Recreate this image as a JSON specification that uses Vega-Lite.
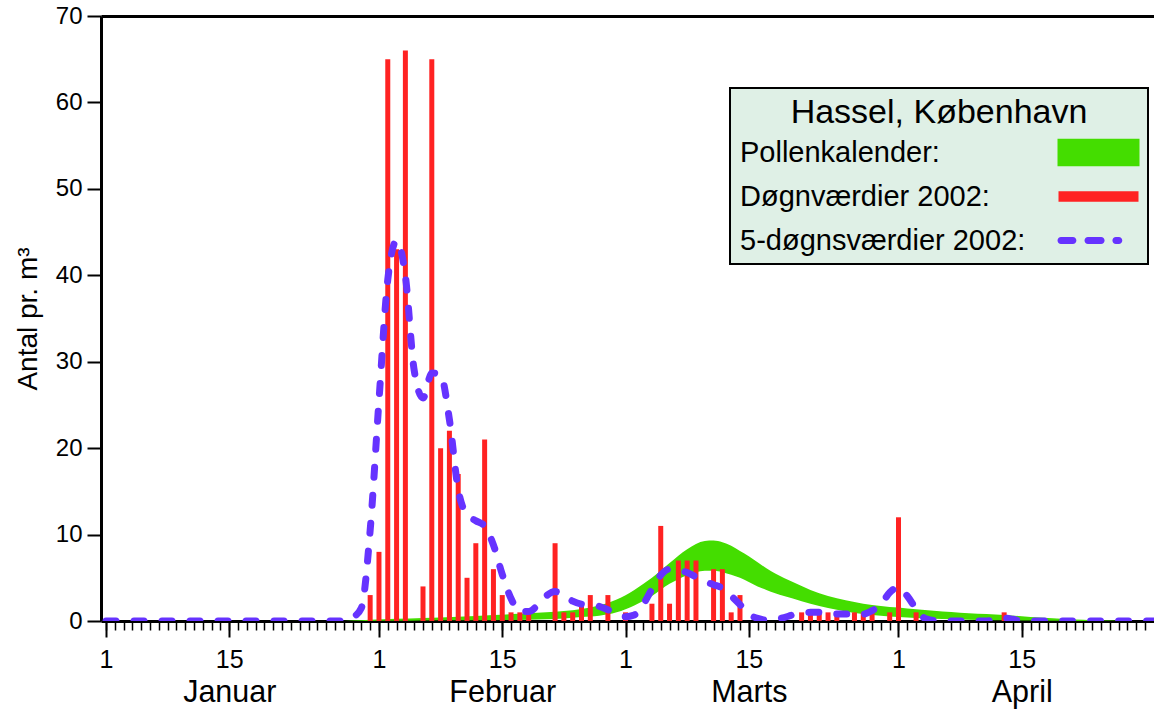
{
  "$schema": "https://vega.github.io/schema/vega-lite/v6.json",
  "width": 1053,
  "height": 605,
  "autosize": {"type": "none"},
  "padding": {"left": 101, "top": 16, "right": 0, "bottom": 89},
  "background": "white",
  "config": {
    "view": {"stroke": null},
    "font": "Liberation Sans",
    "axis": {
      "domainColor": "black",
      "domainWidth": 3,
      "tickColor": "black",
      "labelColor": "black",
      "titleColor": "black",
      "labelFont": "Liberation Sans",
      "titleFont": "Liberation Sans",
      "grid": false
    },
    "axisY": {
      "tickSize": 14,
      "tickWidth": 2,
      "labelFontSize": 24,
      "labelPadding": 5,
      "titleFontSize": 28,
      "titleFontWeight": "normal",
      "titlePadding": 13
    },
    "legend": {"strokeWidth": 2}
  },
  "datasets": {
    "band": [
      {"day": 27, "lo": 0, "hi": 0},
      {"day": 28, "lo": 0, "hi": 0.05},
      {"day": 30, "lo": 0, "hi": 0.15},
      {"day": 33, "lo": 0.02, "hi": 0.25},
      {"day": 36, "lo": 0.05, "hi": 0.35},
      {"day": 40, "lo": 0.08, "hi": 0.5},
      {"day": 44, "lo": 0.1, "hi": 0.7},
      {"day": 48, "lo": 0.15, "hi": 0.9},
      {"day": 50, "lo": 0.2, "hi": 1.0},
      {"day": 52, "lo": 0.3, "hi": 1.15},
      {"day": 54, "lo": 0.45, "hi": 1.4},
      {"day": 56, "lo": 0.6, "hi": 1.8},
      {"day": 58, "lo": 1.0, "hi": 2.5},
      {"day": 60, "lo": 1.8, "hi": 3.6},
      {"day": 62, "lo": 2.9, "hi": 5.0},
      {"day": 64, "lo": 4.3, "hi": 6.7},
      {"day": 66, "lo": 5.3, "hi": 8.3},
      {"day": 67, "lo": 5.65, "hi": 8.9},
      {"day": 68, "lo": 5.8, "hi": 9.25},
      {"day": 69, "lo": 5.8, "hi": 9.3},
      {"day": 70, "lo": 5.65, "hi": 9.1},
      {"day": 71, "lo": 5.35, "hi": 8.7},
      {"day": 72, "lo": 5.0, "hi": 8.1},
      {"day": 73, "lo": 4.5, "hi": 7.5},
      {"day": 74, "lo": 4.0, "hi": 6.8},
      {"day": 75, "lo": 3.6, "hi": 6.1},
      {"day": 76, "lo": 3.2, "hi": 5.5},
      {"day": 78, "lo": 2.6, "hi": 4.5},
      {"day": 80, "lo": 2.0, "hi": 3.6},
      {"day": 82, "lo": 1.5, "hi": 2.9},
      {"day": 84, "lo": 1.1, "hi": 2.4},
      {"day": 86, "lo": 0.8, "hi": 2.0},
      {"day": 88, "lo": 0.6, "hi": 1.75},
      {"day": 90, "lo": 0.45, "hi": 1.55},
      {"day": 92, "lo": 0.35, "hi": 1.35},
      {"day": 94, "lo": 0.25, "hi": 1.2},
      {"day": 96, "lo": 0.2, "hi": 1.05},
      {"day": 98, "lo": 0.15, "hi": 0.9},
      {"day": 100, "lo": 0.1, "hi": 0.8},
      {"day": 102, "lo": 0.08, "hi": 0.7},
      {"day": 104, "lo": 0.05, "hi": 0.55},
      {"day": 106, "lo": 0.03, "hi": 0.4},
      {"day": 108, "lo": 0.02, "hi": 0.28},
      {"day": 110, "lo": 0, "hi": 0.18},
      {"day": 112, "lo": 0, "hi": 0.1},
      {"day": 114, "lo": 0, "hi": 0.05},
      {"day": 116, "lo": 0, "hi": 0}
    ],
    "daily": [
      {"day": 30, "value": 3}, {"day": 31, "value": 8}, {"day": 32, "value": 65},
      {"day": 33, "value": 43}, {"day": 34, "value": 66}, {"day": 36, "value": 4},
      {"day": 37, "value": 65}, {"day": 38, "value": 20}, {"day": 39, "value": 22},
      {"day": 40, "value": 17}, {"day": 41, "value": 5}, {"day": 42, "value": 9},
      {"day": 43, "value": 21}, {"day": 44, "value": 6}, {"day": 45, "value": 3},
      {"day": 46, "value": 1}, {"day": 47, "value": 1}, {"day": 48, "value": 1},
      {"day": 51, "value": 9}, {"day": 52, "value": 1}, {"day": 53, "value": 1},
      {"day": 54, "value": 2}, {"day": 55, "value": 3}, {"day": 57, "value": 3},
      {"day": 59, "value": 1}, {"day": 62, "value": 2}, {"day": 63, "value": 11},
      {"day": 64, "value": 2}, {"day": 65, "value": 7}, {"day": 66, "value": 7},
      {"day": 67, "value": 7}, {"day": 69, "value": 6}, {"day": 70, "value": 6},
      {"day": 71, "value": 1}, {"day": 72, "value": 3}, {"day": 79, "value": 1},
      {"day": 80, "value": 1}, {"day": 81, "value": 1}, {"day": 82, "value": 1},
      {"day": 83, "value": 1}, {"day": 85, "value": 1}, {"day": 86, "value": 1},
      {"day": 87, "value": 1}, {"day": 89, "value": 1}, {"day": 90, "value": 12},
      {"day": 92, "value": 1}, {"day": 102, "value": 1}
    ],
    "fiveday": [
      {"day": 0, "value": 0}, {"day": 1, "value": 0}, {"day": 2, "value": 0}, {"day": 3, "value": 0},
      {"day": 4, "value": 0}, {"day": 5, "value": 0}, {"day": 6, "value": 0}, {"day": 7, "value": 0},
      {"day": 8, "value": 0}, {"day": 9, "value": 0}, {"day": 10, "value": 0}, {"day": 11, "value": 0},
      {"day": 12, "value": 0}, {"day": 13, "value": 0}, {"day": 14, "value": 0}, {"day": 15, "value": 0},
      {"day": 16, "value": 0}, {"day": 17, "value": 0}, {"day": 18, "value": 0}, {"day": 19, "value": 0},
      {"day": 20, "value": 0}, {"day": 21, "value": 0}, {"day": 22, "value": 0}, {"day": 23, "value": 0},
      {"day": 24, "value": 0}, {"day": 25, "value": 0}, {"day": 26, "value": 0}, {"day": 27, "value": 0},
      {"day": 28, "value": 0.4}, {"day": 29, "value": 1.5}, {"day": 30, "value": 10.5},
      {"day": 31, "value": 25.5}, {"day": 32, "value": 39.5}, {"day": 33, "value": 44},
      {"day": 34, "value": 39.9}, {"day": 35, "value": 29}, {"day": 36, "value": 25.8},
      {"day": 37, "value": 28.7}, {"day": 38, "value": 28.5}, {"day": 39, "value": 23.3},
      {"day": 40, "value": 15.2}, {"day": 41, "value": 12.3}, {"day": 42, "value": 11.6},
      {"day": 43, "value": 11}, {"day": 44, "value": 8.8}, {"day": 45, "value": 5.4},
      {"day": 46, "value": 2.6}, {"day": 47, "value": 1.1}, {"day": 48, "value": 1.1},
      {"day": 49, "value": 1.8}, {"day": 50, "value": 2.9}, {"day": 51, "value": 3.4},
      {"day": 52, "value": 2.9}, {"day": 53, "value": 2.3}, {"day": 54, "value": 1.95},
      {"day": 55, "value": 1.85}, {"day": 56, "value": 1.7}, {"day": 57, "value": 1.3},
      {"day": 58, "value": 0.9}, {"day": 59, "value": 0.5}, {"day": 60, "value": 0.7},
      {"day": 61, "value": 1.9}, {"day": 62, "value": 3.7}, {"day": 63, "value": 5.3},
      {"day": 64, "value": 6}, {"day": 65, "value": 5.9}, {"day": 66, "value": 5.6},
      {"day": 67, "value": 5.1}, {"day": 68, "value": 4.6}, {"day": 69, "value": 4.2},
      {"day": 70, "value": 3.8}, {"day": 71, "value": 2.9}, {"day": 72, "value": 1.9},
      {"day": 73, "value": 0.8}, {"day": 74, "value": 0.3}, {"day": 75, "value": 0.1},
      {"day": 76, "value": 0.2}, {"day": 77, "value": 0.4}, {"day": 78, "value": 0.7},
      {"day": 79, "value": 0.9}, {"day": 80, "value": 1}, {"day": 81, "value": 1},
      {"day": 82, "value": 0.9}, {"day": 83, "value": 0.8}, {"day": 84, "value": 0.8},
      {"day": 85, "value": 0.8}, {"day": 86, "value": 0.8}, {"day": 87, "value": 1.2},
      {"day": 88, "value": 1.9}, {"day": 89, "value": 3.3}, {"day": 90, "value": 3.9},
      {"day": 91, "value": 2.9}, {"day": 92, "value": 1.4}, {"day": 93, "value": 0.3},
      {"day": 94, "value": 0.05}, {"day": 95, "value": 0}, {"day": 96, "value": 0},
      {"day": 97, "value": 0}, {"day": 98, "value": 0}, {"day": 99, "value": 0},
      {"day": 100, "value": 0}, {"day": 101, "value": 0.2}, {"day": 102, "value": 0.35},
      {"day": 103, "value": 0.2}, {"day": 104, "value": 0}, {"day": 105, "value": 0},
      {"day": 106, "value": 0}, {"day": 107, "value": 0}, {"day": 108, "value": 0},
      {"day": 109, "value": 0}, {"day": 110, "value": 0}, {"day": 111, "value": 0},
      {"day": 112, "value": 0}, {"day": 113, "value": 0}, {"day": 114, "value": 0},
      {"day": 115, "value": 0}, {"day": 116, "value": 0}, {"day": 117, "value": 0},
      {"day": 118, "value": 0}, {"day": 119, "value": 0}
    ]
  },
  "layer": [
    {
      "data": {"name": "band"},
      "mark": {"type": "area", "color": "#44DD00", "opacity": 1, "interpolate": "monotone", "clip": true},
      "encoding": {
        "x": {
          "field": "day", "type": "quantitative",
          "scale": {"domain": [0, 118.45], "nice": false, "zero": false},
          "axis": {"orient": "top", "ticks": false, "labels": false, "domain": true, "title": null}
        },
        "y": {
          "field": "hi", "type": "quantitative", "scale": {"domain": [0, 70], "nice": false},
          "title": "Antal pr. m³", "axis": {"values": [0, 10, 20, 30, 40, 50, 60, 70]}
        },
        "y2": {"field": "lo"}
      }
    },
    {
      "data": {"name": "daily"},
      "mark": {"type": "bar", "color": "#FF2222", "width": 5},
      "encoding": {
        "x": {
          "field": "day", "type": "quantitative",
          "scale": {"domain": [0, 118.45], "nice": false, "zero": false},
          "axis": {
            "orient": "bottom",
            "values": [0,1,2,3,4,5,6,7,8,9,10,11,12,13,14,15,16,17,18,19,20,21,22,23,24,25,26,27,28,29,30,31,32,33,34,35,36,37,38,39,40,41,42,43,44,45,46,47,48,49,50,51,52,53,54,55,56,57,58,59,60,61,62,63,64,65,66,67,68,69,70,71,72,73,74,75,76,77,78,79,80,81,82,83,84,85,86,87,88,89,90,91,92,93,94,95,96,97,98,99,100,101,102,103,104,105,106,107,108,109,110,111,112,113,114,115,116,117,118],
            "tickSize": 9, "tickWidth": 1.5, "labels": false, "domain": true, "title": null
          }
        },
        "y": {
          "field": "value", "type": "quantitative", "scale": {"domain": [0, 70], "nice": false},
          "title": "Antal pr. m³", "axis": {"values": [0, 10, 20, 30, 40, 50, 60, 70]}
        }
      }
    },
    {
      "data": {"name": "fiveday"},
      "mark": {
        "type": "line", "color": "#6633FF", "strokeWidth": 7,
        "strokeDash": [10, 18], "strokeCap": "round",
        "interpolate": "monotone", "clip": true
      },
      "encoding": {
        "x": {
          "field": "day", "type": "quantitative",
          "scale": {"domain": [0, 118.45], "nice": false, "zero": false},
          "axis": {
            "orient": "bottom",
            "values": [0, 14, 31, 45, 59, 73, 90, 104],
            "tickSize": 16, "tickWidth": 2, "domain": false, "title": null,
            "labelFontSize": 25, "labelPadding": 10, "labelOverlap": false, "labelFlush": false,
            "labelExpr": "(datum.value == 14 || datum.value == 45 || datum.value == 73 || datum.value == 104) ? '15' : '1'"
          }
        },
        "y": {
          "field": "value", "type": "quantitative", "scale": {"domain": [0, 70], "nice": false},
          "title": "Antal pr. m³", "axis": {"values": [0, 10, 20, 30, 40, 50, 60, 70]}
        }
      }
    },
    {
      "data": {"name": "fiveday"},
      "transform": [{"filter": "false"}],
      "mark": {"type": "point", "filled": true, "opacity": 1},
      "encoding": {
        "x": {
          "field": "day", "type": "quantitative",
          "scale": {"domain": [0, 118.45], "nice": false, "zero": false},
          "axis": {
            "orient": "bottom",
            "values": [14, 45, 73, 104],
            "ticks": false, "domain": false, "title": null,
            "labelFontSize": 30.5, "labelPadding": 56, "labelOverlap": false, "labelFlush": false,
            "labelExpr": "datum.value == 14 ? 'Januar' : datum.value == 45 ? 'Februar' : datum.value == 73 ? 'Marts' : 'April'"
          }
        },
        "y": {
          "field": "value", "type": "quantitative", "scale": {"domain": [0, 70], "nice": false},
          "title": "Antal pr. m³", "axis": {"values": [0, 10, 20, 30, 40, 50, 60, 70]}
        },
        "color": {
          "field": "serie", "type": "nominal",
          "scale": {
            "domain": ["Pollenkalender:", "Døgnværdier 2002:", "5-døgnsværdier 2002:"],
            "range": ["#44DD00", "#FF2222", "#6633FF"]
          },
          "legend": {
            "title": "Hassel, København",
            "orient": "none", "legendX": 629, "legendY": 72, "direction": "vertical",
            "fillColor": "#DFF0E6", "strokeColor": "black", "padding": 8,
            "titleFontSize": 34, "titleFontWeight": "normal", "titleFont": "Liberation Sans",
            "titleColor": "black", "titleAnchor": "middle", "titlePadding": 8, "titleLimit": 600,
            "labelFontSize": 29, "labelFont": "Liberation Sans", "labelColor": "black", "labelLimit": 500,
            "labelOffset": -373, "symbolOffset": 346, "symbolSize": 4, "symbolStrokeWidth": 0,
            "rowPadding": 14
          }
        },
        "shape": {
          "field": "serie", "type": "nominal",
          "scale": {
            "domain": ["Pollenkalender:", "Døgnværdier 2002:", "5-døgnsværdier 2002:"],
            "range": [
              "M-41,-13.85H41V13.85H-41Z",
              "M-40,-5.3H40V5.3H-40Z",
              "M-37.5,-3.5H-25.6A3.5,3.5,0,0,1,-25.6,3.5H-37.5A3.5,3.5,0,0,1,-37.5,-3.5Z M-10.5,-3.5H2.6A3.5,3.5,0,0,1,2.6,3.5H-10.5A3.5,3.5,0,0,1,-10.5,-3.5Z M17.4,-3.5H20.3A3.5,3.5,0,0,1,20.3,3.5H17.4A3.5,3.5,0,0,1,17.4,-3.5Z"
            ]
          },
          "legend": {
            "title": "Hassel, København",
            "orient": "none", "legendX": 629, "legendY": 72, "direction": "vertical",
            "fillColor": "#DFF0E6", "strokeColor": "black", "padding": 8,
            "titleFontSize": 34, "titleFontWeight": "normal", "titleFont": "Liberation Sans",
            "titleColor": "black", "titleAnchor": "middle", "titlePadding": 8, "titleLimit": 600,
            "labelFontSize": 29, "labelFont": "Liberation Sans", "labelColor": "black", "labelLimit": 500,
            "labelOffset": -373, "symbolOffset": 346, "symbolSize": 4, "symbolStrokeWidth": 0,
            "rowPadding": 14
          }
        }
      }
    }
  ],
  "resolve": {"axis": {"x": "independent"}}
}
